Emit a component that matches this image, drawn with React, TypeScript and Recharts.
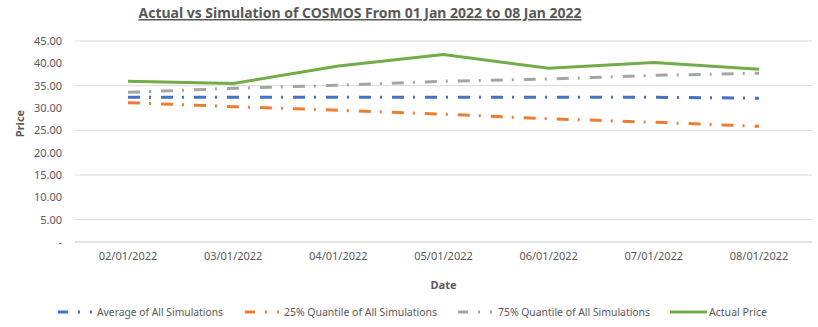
import { LineChart, Line, XAxis, YAxis, CartesianGrid, Label } from 'recharts'

const dates = ['02/01/2022', '03/01/2022', '04/01/2022', '05/01/2022', '06/01/2022', '07/01/2022', '08/01/2022']
const averageSim = [32.4, 32.4, 32.4, 32.4, 32.4, 32.4, 32.2]
const quantile25 = [31.2, 30.3, 29.5, 28.6, 27.6, 26.8, 25.9]
const quantile75 = [33.5, 34.4, 35.1, 36.0, 36.5, 37.3, 37.8]
const actualPrice = [36.0, 35.5, 39.4, 42.0, 38.9, 40.2, 38.7]
const yTicks = [0, 5, 10, 15, 20, 25, 30, 35, 40, 45]

const series = [
  { key: 'avg', name: 'Average of All Simulations', color: '#4472C4', dashed: true },
  { key: 'q25', name: '25% Quantile of All Simulations', color: '#ED7D31', dashed: true },
  { key: 'q75', name: '75% Quantile of All Simulations', color: '#A5A5A5', dashed: true },
  { key: 'actual', name: 'Actual Price', color: '#70AD47', dashed: false },
]

const data = dates.map((date, i) => ({
  date,
  avg: averageSim[i],
  q25: quantile25[i],
  q75: quantile75[i],
  actual: actualPrice[i],
}))

const FONT = '"Noto Sans", sans-serif'
const TEXT = '#595959'

// legend positions
const legendSlots = [
  { x: 58, textX: 97, textW: 126 },
  { x: 245, textX: 284, textW: 153 },
  { x: 458, textX: 498, textW: 152 },
  { x: 670, textX: 709, textW: 58 },
]

function ChartLegend() {
  return (
    <svg width={818} height={24} style={{ position: 'absolute', left: 0, top: 300 }}>
      {series.map((s, i) => {
        const slot = legendSlots[i]
        return (
          <g key={s.key}>
            {s.dashed ? (
              <line x1={slot.x} x2={slot.x + 36} y1={12} y2={12} stroke={s.color} strokeWidth={3}
                strokeDasharray='10 10 2 10 2 10' />
            ) : (
              <line x1={slot.x} x2={slot.x + 37} y1={12} y2={12} stroke={s.color} strokeWidth={3} />
            )}
            <text x={slot.textX} y={16} fontSize={11} fill={TEXT} fontFamily={FONT}
              textLength={slot.textW} lengthAdjust='spacingAndGlyphs'>{s.name}</text>
          </g>
        )
      })}
    </svg>
  )
}

export default function App() {
  return (
    <div style={{ position: 'absolute', left: 0, top: 0, width: 818, height: 327, background: '#fff', fontFamily: FONT }}>
      <svg width={818} height={30} style={{ position: 'absolute', left: 0, top: 0 }}>
        <text x={360} y={18} textAnchor='middle' fontSize={15} fontWeight='bold' fill={TEXT} fontFamily={FONT}
          textLength={443} lengthAdjust='spacingAndGlyphs' textDecoration='underline'>
          Actual vs Simulation of COSMOS From 01 Jan 2022 to 08 Jan 2022
        </text>
      </svg>
      <LineChart width={818} height={327} data={data} margin={{ top: 41, right: 6, bottom: 0, left: 0 }}>
        <CartesianGrid vertical={false} stroke='#d9d9d9' />
        <XAxis dataKey='date' tickLine={false} axisLine={{ stroke: '#d9d9d9' }} tickSize={0} tickMargin={10}
          padding={{ left: 53, right: 53 }}
          tick={{ fontSize: 11, fill: TEXT, fontFamily: FONT }} height={85}>
          <Label value='Date' position='insideTop' offset={39} style={{ fontSize: 11, fontWeight: 'bold', fill: TEXT, fontFamily: FONT }} />
        </XAxis>
        <YAxis width={75} domain={[0, 45]} ticks={yTicks} tickLine={false} axisLine={false} tickSize={0} tickMargin={13}
          tickFormatter={(v: number) => (v === 0 ? '-' : v.toFixed(2))}
          tick={{ fontSize: 11, fill: TEXT, fontFamily: FONT }}>
          <Label value='Price' angle={-90} position='insideLeft' offset={20} dy={-18}
            style={{ fontSize: 11, fontWeight: 'bold', fill: TEXT, fontFamily: FONT, textAnchor: 'middle' }} />
        </YAxis>
        {series.map((s) => (
          <Line key={s.key} dataKey={s.key} name={s.name} stroke={s.color} strokeWidth={3}
            strokeDasharray={s.dashed ? '12 9 2 10' : undefined} dot={false} activeDot={false}
            type='linear' isAnimationActive={false} />
        ))}
      </LineChart>
      <ChartLegend />
    </div>
  )
}
